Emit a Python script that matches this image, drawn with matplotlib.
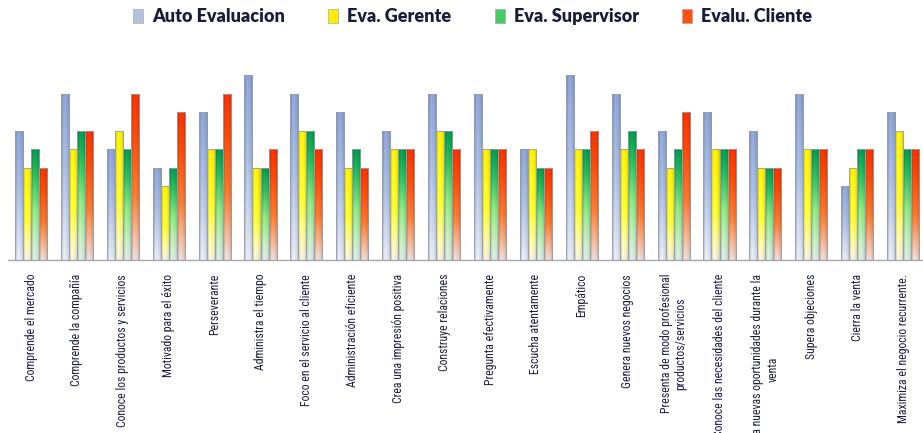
import numpy as np
import matplotlib
matplotlib.use("Agg")
import matplotlib.pyplot as plt
from matplotlib.colors import LinearSegmentedColormap
from matplotlib.patches import Patch
from matplotlib import font_manager as fm

categories = [
    "Comprende el mercado",
    "Comprende la compañía",
    "Conoce los productos y servicios",
    "Motivado para el éxito",
    "Perseverante",
    "Administra el tiempo",
    "Foco en el servicio al cliente",
    "Administración eficiente",
    "Crea una impresión positiva",
    "Construye relaciones",
    "Pregunta efectivamente",
    "Escucha atentamente",
    "Empático",
    "Genera nuevos negocios",
    "Presenta de modo profesional\nproductos/servicios",
    "Conoce las necesidades del cliente",
    "Detecta nuevas oportunidades durante la\nventa",
    "Supera objeciones",
    "Cierra la venta",
    "Maximiza el negocio recurrente.",
]

series_names = ["Auto Evaluacion", "Eva. Gerente", "Eva. Supervisor", "Evalu. Cliente"]

auto_eval = [7, 9, 6, 5, 8, 10, 9, 8, 7, 9, 9, 6, 10, 9, 7, 8, 7, 9, 4, 8]
eva_gerente = [5, 6, 7, 4, 6, 5, 7, 5, 6, 7, 6, 6, 6, 6, 5, 6, 5, 6, 5, 7]
eva_supervisor = [6, 7, 6, 5, 6, 5, 7, 6, 6, 7, 6, 5, 6, 7, 6, 6, 5, 6, 6, 6]
evalu_cliente = [5, 7, 9, 8, 9, 6, 6, 5, 6, 6, 6, 5, 7, 6, 8, 6, 5, 6, 6, 6]

series_values = [auto_eval, eva_gerente, eva_supervisor, evalu_cliente]

# gradient stops (position from bottom 0 -> top 1)
gradients = [
    [(0.0, "#E6EAF4"), (0.15, "#D4DDF0"), (0.55, "#A9BCE2"), (1.0, "#8CA4D6")],
    [(0.0, "#F2EFDD"), (0.15, "#FFF9B0"), (0.45, "#FFFF30"), (1.0, "#FFF000")],
    [(0.0, "#DCE8E6"), (0.15, "#C6EEC6"), (0.45, "#8EEA80"), (0.75, "#2EBF5E"), (1.0, "#009A4E")],
    [(0.0, "#ECDCD8"), (0.15, "#F4B898"), (0.4, "#FF7A30"), (0.75, "#FF4A08"), (1.0, "#FF3000")],
]
legend_colors = ["#B4C2E2", "#FFEE00", "#44CC66", "#FF5010"]


def pick_font(names):
    avail = {f.name for f in fm.fontManager.ttflist}
    for n in names:
        if n in avail:
            return n
    return "DejaVu Sans"


label_font = pick_font(["Liberation Sans Narrow", "Roboto Condensed", "Liberation Sans"])
legend_font = pick_font(["Lato", "Open Sans", "DejaVu Sans"])

fig = plt.figure(figsize=(9.23, 4.33), dpi=100)
ax = fig.add_axes([8.05 / 923, (433 - 260) / 433, 918 / 923, 194.25 / 433])

n_cat = len(categories)
n_ser = len(series_values)
x = np.arange(n_cat)
bar_w = 0.175
offsets = (np.arange(n_ser) - (n_ser - 1) / 2) * bar_w

ny = 256
nx = 16
tvals = np.linspace(0, 1, ny)[:, None]
# horizontal cylinder shading
u = np.linspace(-1, 1, nx)[None, :]
shade = 1.0 - 0.18 * (u ** 2) + 0.06 * np.exp(-((u + 0.35) ** 2) / 0.05)

for si, vals in enumerate(series_values):
    cmap = LinearSegmentedColormap.from_list(f"g{si}", gradients[si])
    bars = ax.bar(x + offsets[si], vals, width=bar_w, facecolor="none",
                  edgecolor="#9A9EA8", linewidth=0.6, zorder=3)
    base = cmap(tvals[:, 0])[:, :3]
    img = np.clip(base[:, None, :] * shade[..., None], 0, 1)
    for rect in bars:
        bx, bw, bh = rect.get_x(), rect.get_width(), rect.get_height()
        im = ax.imshow(img, extent=[bx, bx + bw, 0, bh], origin="lower",
                       aspect="auto", interpolation="bilinear", zorder=2)
        im.set_clip_path(rect)

ax.set_xlim(-0.5, n_cat - 0.5)
ax.set_ylim(0, 10.5)
ax.set_yticks([])
for s in ["top", "right", "left"]:
    ax.spines[s].set_visible(False)
ax.spines["bottom"].set_color("#A0A4AC")
ax.spines["bottom"].set_linewidth(0.9)
ax.set_xticks(x)
ax.set_xticklabels(categories, rotation=90, fontsize=8.5, family=label_font,
                   color="#1A1D3A", va="top", ha="center", multialignment="center")
ax.tick_params(axis="x", length=0, pad=10)

handles = [Patch(facecolor=legend_colors[i], edgecolor="#A8A8A8", linewidth=0.5)
           for i in range(n_ser)]
fig.legend(handles, series_names, loc="center", bbox_to_anchor=(0.512, 0.962),
           ncol=4, frameon=False, handlelength=0.55, handleheight=0.8,
           handletextpad=0.5, columnspacing=2.4,
           prop={"family": legend_font, "weight": "heavy", "size": 13},
           labelcolor="#1A1D3A")

fig.savefig("out.png", dpi=100)
